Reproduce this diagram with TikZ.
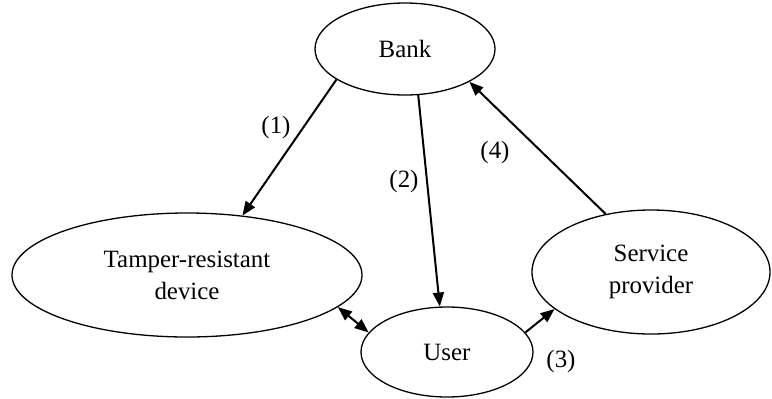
\documentclass[tikz,border=0pt]{standalone}
\usepackage{fontspec}
\setmainfont{Liberation Serif}
\usetikzlibrary{shapes.geometric,arrows.meta}
\begin{document}
\begin{tikzpicture}[x=1bp,y=-1bp,
  ell/.style={draw,ellipse,line width=1.3bp,inner sep=0pt,align=center,font=\fontsize{25}{32}\selectfont},
  conn/.style={line width=2bp,-{Triangle[length=14bp,width=11bp]}},
  lbl/.style={font=\fontsize{25}{28}\selectfont,inner sep=0pt}]
\useasboundingbox (0,0) rectangle (772,398);
\node[ell,minimum width=180bp,minimum height=92bp] (bank) at (405,49) {Bank};
\node[ell,minimum width=350bp,minimum height=124bp] (tamper) at (187,275) {Tamper-resistant\\device};
\node[ell,minimum width=238bp,minimum height=124bp] (sp) at (651,272) {Service\\provider};
\node[ell,minimum width=172bp,minimum height=90bp] (user) at (447,352) {User};
\draw[conn] (bank.204) -- (tamper.47);
\draw[conn] (bank.286) -- (user.99);
\draw[conn] (sp.128) -- (bank.333);
\draw[conn] (user.14) -- (sp.201);
\draw[conn,{Triangle[length=14bp,width=11bp]}-{Triangle[length=14bp,width=11bp]}] (tamper.348) -- (user.166);
\node[lbl] (l1) at (276,128) {(1)};
\node[lbl] (l2) at (404,182) {(2)};
\node[lbl] (l4) at (495,153) {(4)};
\node[lbl] (l3) at (561,362) {(3)};
\end{tikzpicture}
\end{document}
